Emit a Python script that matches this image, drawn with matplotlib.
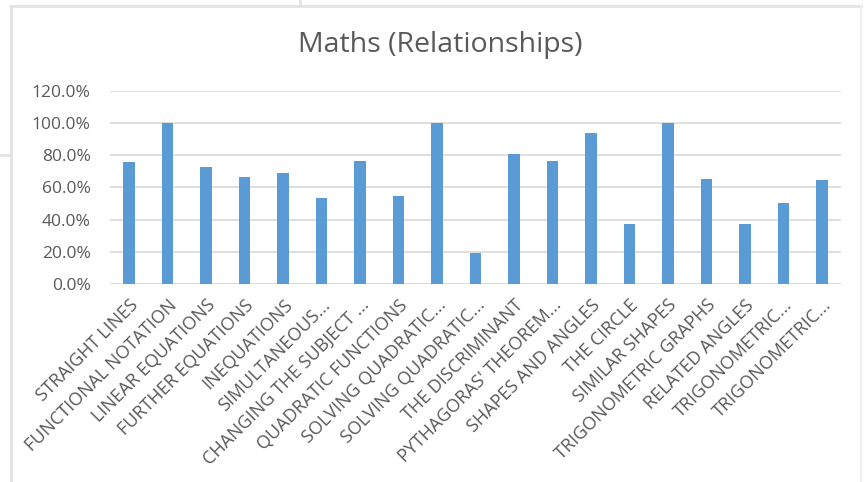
import matplotlib.pyplot as plt
from matplotlib.lines import Line2D
from matplotlib.ticker import PercentFormatter

# topics and share of relationships marks per topic
topicos = ['STRAIGHT LINES', 'FUNCTIONAL NOTATION', 'LINEAR EQUATIONS',
           'FURTHER EQUATIONS', 'INEQUATIONS', 'SIMULTANEOUS...',
           'CHANGING THE SUBJECT ...', 'QUADRATIC FUNCTIONS',
           'SOLVING QUADRATIC...', 'SOLVING QUADRATIC...', 'THE DISCRIMINANT',
           "PYTHAGORAS' THEOREM...", 'SHAPES AND ANGLES', 'THE CIRCLE',
           'SIMILAR SHAPES', 'TRIGONOMETRIC GRAPHS', 'RELATED ANGLES',
           'TRIGONOMETRIC...', 'TRIGONOMETRIC...']
valores = [0.762, 1.0, 0.730, 0.667, 0.689, 0.536, 0.765, 0.548,
           1.0, 0.192, 0.807, 0.765, 0.938, 0.375, 1.0, 0.655, 0.375,
           0.505, 0.645]

yticks = [0, 0.2, 0.4, 0.6, 0.8, 1.0, 1.2]

plt.rcParams['font.family'] = ['Open Sans', 'DejaVu Sans']
cinza = '#595959'
grade = '#D9D9D9'

fig = plt.figure(figsize=(8.64, 4.82), dpi=100)
ax = fig.add_axes([0.1273, 0.4118, 0.8461, 0.3984])

x = range(len(topicos))
ax.bar(x, valores, width=0.30, color='#5B9BD5', zorder=3)

ax.set_xlim(-0.5, len(topicos) - 0.5)
ax.set_ylim(0, 1.2)
ax.set_yticks(yticks)
ax.yaxis.set_major_formatter(PercentFormatter(1.0, decimals=1))
ax.grid(axis='y', color=grade, linewidth=1.2, zorder=0)
ax.set_axisbelow(True)
for s in ax.spines.values():
    s.set_visible(False)
ax.axhline(0, color=grade, linewidth=1.2, zorder=1)

ax.set_xticks(list(x))
ax.set_xticklabels(topicos, rotation=45, ha='right', rotation_mode='anchor',
                   fontsize=13, color=cinza)
ax.tick_params(axis='x', length=0, pad=9)
ax.tick_params(axis='y', length=0, pad=14, labelsize=12.5, labelcolor=cinza)

fig.text(0.509, 0.9066, 'Maths (Relationships)', ha='center', va='center',
         fontsize=20.5, color=cinza)

# moldura do gráfico e bordas da planilha
borda = '#E3E3E3'
fig.add_artist(Line2D([11 / 864, 11 / 864], [0, 1 - 6 / 482],
                      color=borda, lw=2, transform=fig.transFigure))
fig.add_artist(Line2D([11 / 864, 861 / 864], [1 - 6 / 482, 1 - 6 / 482],
                      color=borda, lw=2, transform=fig.transFigure))
fig.add_artist(Line2D([861 / 864, 861 / 864], [0, 1 - 6 / 482],
                      color='#EEEEEE', lw=1.5, transform=fig.transFigure))
fig.add_artist(Line2D([300 / 864, 300 / 864], [1 - 5 / 482, 1],
                      color=borda, lw=2, transform=fig.transFigure))
fig.add_artist(Line2D([0, 10 / 864], [1 - 155 / 482, 1 - 155 / 482],
                      color=borda, lw=2, transform=fig.transFigure))
fig.text(40 / 864, 1 + 6 / 482, 'g', fontsize=12, color=cinza, va='baseline')

fig.savefig('out.png', dpi=100)
